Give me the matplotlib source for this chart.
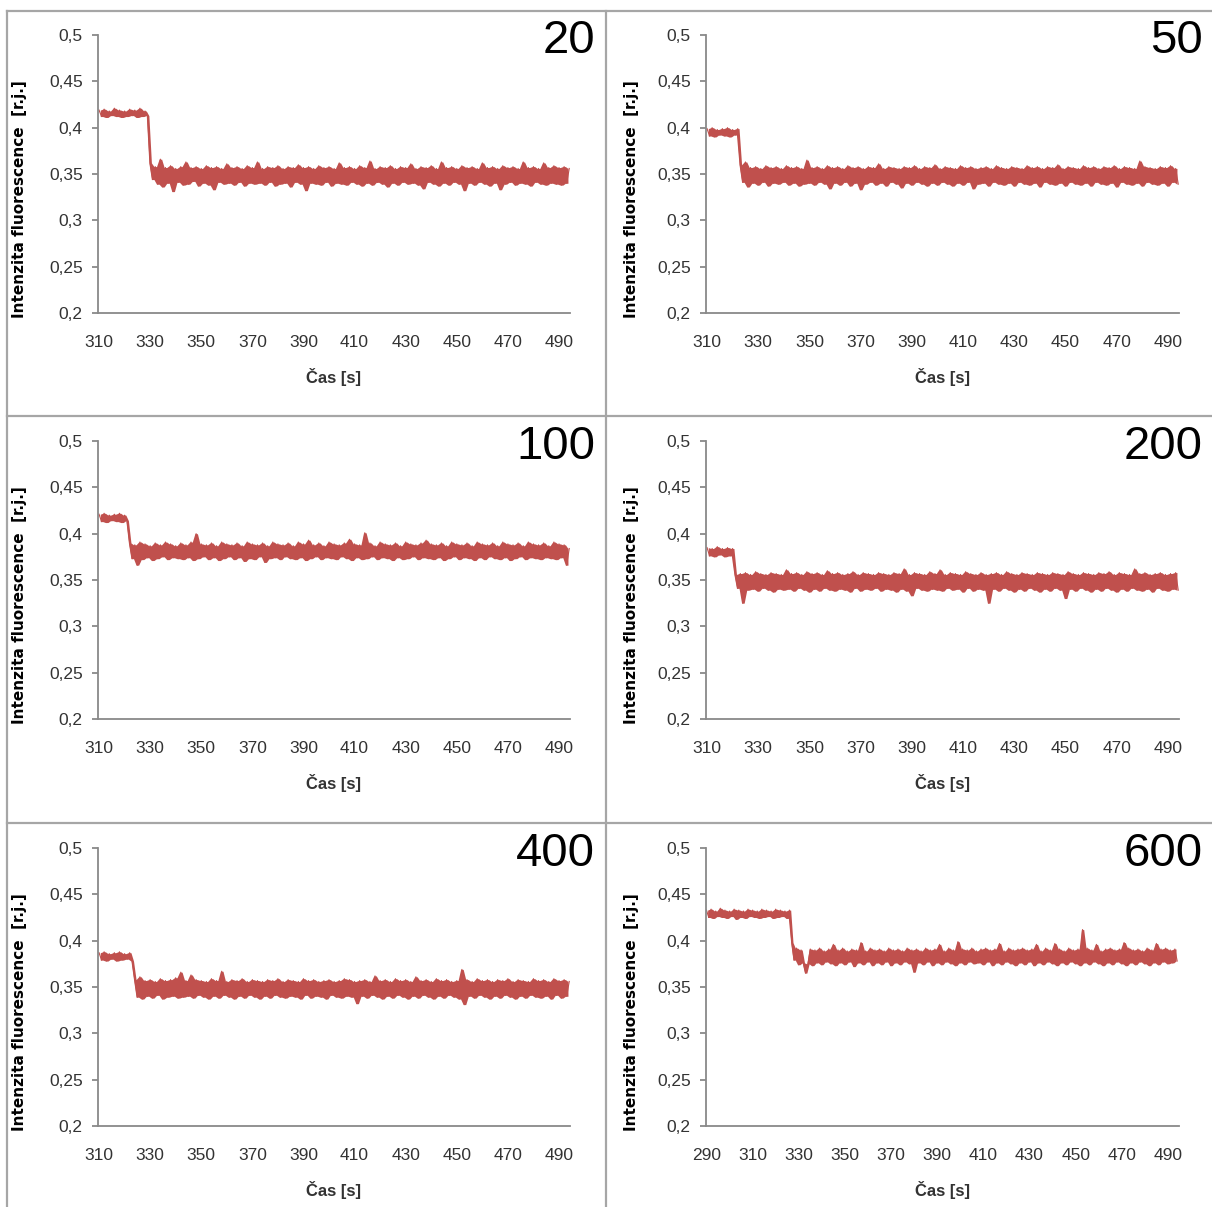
import matplotlib
matplotlib.use("Agg")
import matplotlib.pyplot as plt
from matplotlib.lines import Line2D
import numpy as np

# --- data: fluorescence traces (values in 1e-3 units,
#     one value per second, alternating local highs and lows of the noise) ---
labels = ["20", "50", "100", "200", "400", "600"]
t_start = [310, 310, 310, 310, 310, 290]
x_ticks = [list(range(310, 491, 20))] * 5 + [list(range(290, 491, 20))]
x_limits = [(309.6, 494.3)] * 5 + [(289.8, 494.8)]

trace_20 = [
    419, 412, 420, 411, 418, 413, 421, 412, 419, 411, 418, 412, 420, 413, 419, 411, 421, 412, 418, 413,
    362, 344, 358, 339, 366, 336, 357, 340, 359, 331, 356, 341, 358, 338, 363, 339, 357, 342, 358, 337,
    356, 340, 359, 338, 357, 333, 358, 341, 356, 339, 361, 340, 357, 338, 358, 341, 356, 337, 359, 340,
    357, 339, 363, 340, 356, 338, 358, 341, 357, 337, 359, 339, 356, 340, 358, 336, 357, 341, 360, 339,
    357, 332, 358, 340, 356, 339, 359, 338, 357, 341, 358, 337, 356, 340, 362, 339, 357, 338, 358, 341,
    356, 339, 359, 337, 357, 340, 364, 338, 356, 341, 358, 339, 357, 336, 359, 340, 356, 338, 358, 341,
    357, 339, 361, 340, 356, 338, 358, 334, 357, 341, 359, 339, 356, 337, 363, 340, 357, 338, 358, 341,
    356, 339, 359, 332, 357, 340, 358, 338, 356, 341, 362, 339, 357, 337, 358, 340, 356, 333, 359, 339,
    357, 341, 358, 338, 356, 340, 363, 339, 357, 337, 358, 341, 356, 339, 362, 338, 357, 340, 359, 339,
    357, 338, 358, 340, 356,
]
trace_50 = [
    399, 391, 400, 390, 398, 392, 399, 391, 400, 390, 398, 392, 399,
    360, 341, 363, 336, 357, 340, 358, 338, 356, 341, 359, 337, 357, 340, 358, 339, 356, 341, 359, 338,
    357, 340, 358, 337, 356, 339, 365, 340, 357, 338, 358, 341, 356, 339, 359, 334, 357, 340, 358, 338,
    356, 341, 359, 337, 357, 340, 358, 333, 356, 339, 358, 341, 357, 338, 361, 340, 356, 337, 358, 341,
    357, 339, 356, 335, 358, 340, 357, 338, 359, 341, 356, 339, 358, 337, 357, 340, 360, 338, 356, 341,
    358, 339, 357, 337, 356, 340, 359, 338, 357, 341, 358, 334, 356, 339, 357, 340, 358, 337, 356, 341,
    359, 339, 357, 338, 356, 340, 358, 337, 357, 341, 356, 339, 359, 338, 357, 340, 358, 336, 356, 341,
    358, 339, 357, 338, 360, 340, 356, 337, 358, 341, 357, 339, 356, 338, 359, 340, 357, 337, 358, 341,
    356, 339, 358, 338, 357, 340, 359, 336, 356, 341, 358, 339, 357, 338, 356, 340, 364, 337, 358, 341,
    357, 339, 356, 338, 358, 340, 357, 337, 359, 341, 356, 339,
]
trace_100 = [
    421, 413, 422, 412, 420, 414, 421, 413, 422, 412, 420, 414,
    390, 373, 388, 366, 391, 372, 389, 374, 387, 371, 390, 373, 388, 375, 391, 372, 389, 374, 387, 373,
    390, 372, 388, 374, 391, 371, 400, 373, 389, 375, 388, 372, 390, 374, 387, 371, 391, 373, 389, 375,
    388, 372, 390, 374, 387, 370, 391, 373, 389, 372, 388, 375, 390, 369, 387, 373, 391, 374, 389, 372,
    388, 375, 390, 373, 387, 372, 391, 374, 389, 371, 393, 373, 388, 375, 390, 372, 387, 374, 391, 373,
    389, 372, 388, 375, 390, 373, 394, 371, 389, 374, 388, 372, 401, 373, 390, 375, 387, 372, 391, 374,
    389, 373, 388, 371, 390, 374, 387, 372, 391, 373, 389, 375, 388, 372, 390, 374, 393, 373, 389, 372,
    388, 374, 390, 371, 387, 373, 391, 375, 389, 372, 388, 374, 390, 373, 387, 371, 391, 374, 389, 372,
    388, 375, 390, 373, 387, 372, 391, 374, 389, 371, 388, 373, 390, 375, 387, 372, 391, 374, 389, 373,
    388, 372, 390, 374, 387, 373, 391, 372, 389, 374, 388, 366, 384,
]
trace_200 = [
    385, 376, 384, 375, 386, 377, 384, 375, 385, 376, 384,
    356, 341, 357, 325, 358, 339, 356, 340, 359, 338, 357, 341, 356, 339, 358, 337, 357, 340, 356, 339,
    361, 340, 357, 338, 358, 341, 356, 339, 359, 337, 357, 340, 358, 338, 356, 341, 360, 339, 357, 338,
    358, 340, 356, 339, 357, 337, 359, 341, 356, 338, 358, 340, 357, 339, 356, 341, 358, 338, 357, 340,
    356, 339, 358, 337, 357, 340, 362, 338, 356, 333, 358, 341, 357, 339, 356, 338, 359, 340, 357, 339,
    361, 338, 356, 341, 358, 339, 357, 340, 356, 337, 359, 341, 357, 338, 356, 340, 358, 339, 356, 325,
    357, 340, 358, 338, 356, 341, 359, 339, 357, 337, 356, 340, 358, 338, 357, 341, 356, 339, 358, 337,
    357, 340, 356, 338, 358, 341, 357, 339, 356, 330, 359, 340, 357, 338, 356, 341, 358, 339, 357, 337,
    356, 340, 358, 338, 357, 341, 359, 339, 356, 337, 358, 340, 357, 338, 356, 341, 362, 339, 357, 338,
    358, 340, 356, 337, 357, 341, 358, 339, 356, 338, 357, 340, 358, 339,
]
trace_400 = [
    387, 379, 388, 378, 386, 380, 387, 378, 388, 379, 386, 380, 387, 378,
    358, 339, 361, 337, 357, 340, 358, 338, 356, 341, 359, 337, 357, 339, 358, 340, 360, 338, 366, 339,
    357, 340, 363, 338, 358, 341, 357, 339, 356, 337, 359, 340, 357, 338, 367, 341, 356, 339, 358, 337,
    357, 340, 359, 338, 356, 341, 358, 339, 357, 337, 356, 340, 358, 338, 357, 341, 359, 339, 356, 338,
    358, 340, 357, 339, 356, 337, 359, 341, 357, 338, 358, 340, 356, 339, 357, 337, 358, 341, 356, 339,
    357, 338, 359, 340, 358, 339, 356, 332, 357, 340, 358, 338, 356, 341, 362, 339, 357, 337, 358, 340,
    356, 338, 359, 341, 357, 339, 358, 337, 356, 340, 361, 338, 357, 341, 358, 339, 356, 337, 359, 340,
    357, 338, 358, 341, 356, 339, 357, 337, 369, 331, 358, 340, 356, 338, 359, 341, 357, 339, 358, 337,
    356, 340, 358, 338, 357, 341, 359, 339, 356, 337, 358, 340, 357, 338, 356, 341, 359, 339, 357, 338,
    358, 340, 356, 337, 359, 341, 357, 338, 358, 340, 356,
]
trace_600 = [
    433, 425, 434, 424, 432, 426, 435, 425, 433, 424, 432, 426, 434, 423, 433, 425, 432, 424, 434, 426,
    433, 425, 432, 424, 434, 425, 433, 426, 432, 424, 434, 425, 433, 426, 432, 424, 433,
    398, 379, 392, 374, 390, 376, 365, 375, 391, 373, 390, 376, 392, 374, 389, 377, 391, 375, 396, 373,
    390, 376, 392, 374, 389, 377, 391, 372, 390, 376, 398, 374, 389, 377, 392, 373, 390, 376, 391, 374,
    389, 377, 392, 373, 390, 376, 391, 374, 389, 377, 392, 375, 390, 366, 391, 376, 389, 374, 392, 377,
    390, 373, 391, 376, 396, 374, 389, 377, 392, 375, 390, 373, 399, 376, 391, 374, 390, 377, 392, 375,
    389, 376, 391, 374, 392, 377, 390, 373, 391, 376, 397, 374, 389, 377, 392, 375, 390, 373, 391, 376,
    392, 374, 390, 377, 391, 373, 396, 376, 389, 374, 392, 377, 390, 375, 397, 373, 391, 376, 389, 374,
    392, 377, 390, 375, 391, 373, 412, 376, 392, 374, 390, 377, 396, 375, 389, 373, 391, 376, 392, 374,
    390, 377, 391, 375, 398, 373, 392, 376, 390, 374, 391, 377, 389, 375, 392, 373, 390, 376, 397, 374,
    391, 377, 392, 375, 390, 376, 391, 378,
]
traces = [trace_20, trace_50, trace_100, trace_200, trace_400, trace_600]

y_ticks = [0.2, 0.25, 0.3, 0.35, 0.4, 0.45, 0.5]
y_tick_labels = ["0,2", "0,25", "0,3", "0,35", "0,4", "0,45", "0,5"]

LINE_COLOR = "#C0504D"
AXIS_COLOR = "#898989"
FRAME_COLOR = "#A6A6A6"
TEXT_COLOR = "#333333"
SANS = ["Liberation Sans", "DejaVu Sans"]

W, H = 1212, 1207
fig = plt.figure(figsize=(W / 100, H / 100), dpi=100)
fig.patch.set_facecolor("white")

# pixel geometry of the plot boxes
col_left = [98, 706]
col_right = [570, 1179]
col_title_right = [595, 1203]
col_ylabel_x = [27, 639]
row_top = [35, 441, 848]
plot_h = 278

for i, vals in enumerate(traces):
    r, c = divmod(i, 2)
    left, right, top = col_left[c], col_right[c], row_top[r]
    width = right - left
    ax = fig.add_axes([left / W, 1 - (top + plot_h) / H, width / W, plot_h / H])

    t = np.arange(t_start[i], t_start[i] + len(vals))
    y = np.array(vals) / 1000.0
    # the recorded signal is dense noise: shade the span each segment sweeps,
    # then draw the trace itself on top
    tm = (t[:-1] + t[1:]) / 2
    ax.fill_between(tm, np.minimum(y[:-1], y[1:]), np.maximum(y[:-1], y[1:]),
                    color=LINE_COLOR, lw=0)
    ax.plot(t, y, color=LINE_COLOR, lw=0.8)

    ax.set_xlim(*x_limits[i])
    ax.set_ylim(0.2, 0.5)
    ax.set_xticks(x_ticks[i])
    ax.set_xticklabels([str(v) for v in x_ticks[i]])
    ax.set_yticks(y_ticks)
    ax.set_yticklabels(y_tick_labels)
    for s in ["top", "right"]:
        ax.spines[s].set_visible(False)
    for s in ["left", "bottom"]:
        ax.spines[s].set_color(AXIS_COLOR)
        ax.spines[s].set_linewidth(1.3)
    ax.tick_params(axis="y", length=4.5, width=1.3, color=AXIS_COLOR, pad=6.5,
                   labelsize=12.5, labelcolor=TEXT_COLOR)
    ax.tick_params(axis="x", length=0, pad=16, labelsize=12.5, labelcolor=TEXT_COLOR)
    for lab in ax.get_xticklabels() + ax.get_yticklabels():
        lab.set_family(SANS)

    ax.set_xlabel("Čas [s]", family=SANS, fontsize=12, fontweight="bold",
                  color=TEXT_COLOR, labelpad=13)
    ax.set_ylabel("Intenzita fluorescence  [r.j.]", family="DejaVu Sans",
                  fontsize=11, fontweight="bold", color="black")
    ax.yaxis.set_label_coords(-(left - col_ylabel_x[c]) / width, 0.41)

    ax.text((col_title_right[c] - left) / width, 1 - 18 / plot_h, labels[i],
            transform=ax.transAxes, ha="right", va="baseline", family=SANS,
            fontsize=34, color="black")

# gray cell frames
for x in [7, 606]:
    fig.add_artist(Line2D([x / W, x / W], [0, 1 - 11 / H], color=FRAME_COLOR, lw=1.6))
for y in [11, 416, 823]:
    fig.add_artist(Line2D([7 / W, 1], [1 - y / H, 1 - y / H], color=FRAME_COLOR, lw=1.6))

fig.savefig("out.png", dpi=100, facecolor="white")
